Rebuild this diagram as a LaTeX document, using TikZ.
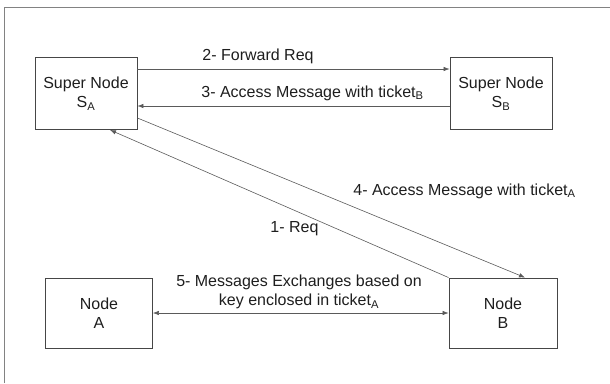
\documentclass[tikz,border=0pt]{standalone}
\usepackage{fontspec}
\setmainfont{Liberation Sans}
\usetikzlibrary{arrows.meta}
\definecolor{boxline}{RGB}{70,70,70}
\definecolor{arrline}{RGB}{90,90,90}
\definecolor{frameline}{RGB}{130,130,130}
\definecolor{txt}{RGB}{30,30,30}
\tikzset{
  box/.style={draw=boxline, line width=0.9pt, minimum width=102pt, minimum height=72pt, inner sep=0pt, align=center, text=txt, font=\fontsize{16}{19}\selectfont},
  lbl/.style={inner sep=0pt, align=center, text=txt, font=\fontsize{16}{19}\selectfont},
  conn/.style={draw=arrline, line width=0.6pt},
  tip/.style={-{Latex[length=6pt,width=4.5pt]}},
}
\begin{document}
\begin{tikzpicture}[x=1pt,y=-1pt]
\useasboundingbox (0,0) rectangle (610,383);
\coordinate (fbl) at (4.5,383);
\coordinate (ftl) at (4.5,7.5);
\coordinate (ftr) at (610,7.5);
\draw[frameline, line width=1.3pt] (fbl) -- (ftl) -- (ftr);
\node[box] (SA) at (86,93.5) {Super Node\\S\textsubscript{A}};
\node[box] (SB) at (501,93.5) {Super Node\\S\textsubscript{B}};
\node[box, minimum width=107pt, minimum height=70pt] (A) at (99,313) {Node\\A};
\node[box, minimum width=108pt, minimum height=70pt] (B) at (503,313) {Node\\B};
\draw[conn, tip] ([yshift=24.5pt]SA.east) -- ([yshift=24.5pt]SB.west);
\draw[conn, tip] ([yshift=-12.5pt]SB.west) -- ([yshift=-12.5pt]SA.east);
\draw[conn, tip] ([yshift=-24.5pt]SA.east) -- ([xshift=22pt]B.north);
\draw[conn, tip] (B.north west) -- ([xshift=24pt]SA.south);
\draw[conn, {Latex[length=6pt,width=4.5pt]}-{Latex[length=6pt,width=4.5pt]}] (A.east) -- (B.west);
\node[lbl] (l2) at (258,56) {2- Forward Req};
\node[lbl] (l3) at (312.5,93) {3- Access Message with ticket\textsubscript{B}};
\node[lbl] (l4) at (464.5,191) {4- Access Message with ticket\textsubscript{A}};
\node[lbl] (l1) at (294.5,229) {1- Req};
\node[lbl] (l5) at (299,292) {5- Messages Exchanges based on\\key enclosed in ticket\textsubscript{A}};
\end{tikzpicture}
\end{document}
